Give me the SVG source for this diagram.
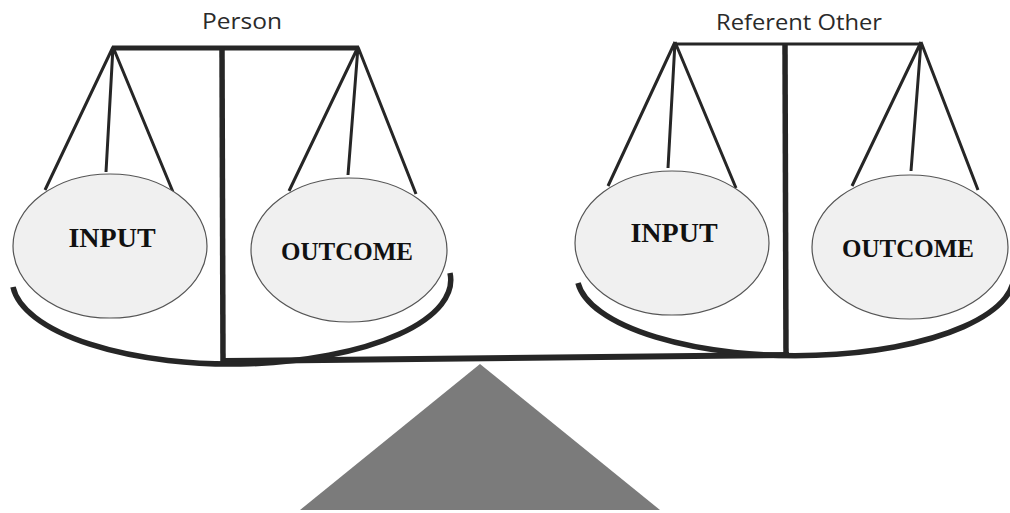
<svg xmlns="http://www.w3.org/2000/svg" width="1010" height="513" viewBox="0 0 1010 513">
  <style>
    .bg { fill: #ffffff; }
    .line { stroke: #262626; fill: none; stroke-linecap: butt; }
    .string { stroke: #262626; stroke-width: 3; fill: none; }
    .pan { stroke: #262626; stroke-width: 5.5; fill: none; }
    .dish { fill: #f0f0f0; stroke: #555555; stroke-width: 1.2; }
    .title { font-family: "Open Sans", "Liberation Sans", sans-serif; font-size: 22px; fill: #2a2a2a; text-anchor: middle; }
    .big { font-family: "Liberation Serif", "Times New Roman", serif; font-weight: bold; fill: #111111; text-anchor: middle; }
  </style>
  <rect class="bg" x="0" y="0" width="1010" height="513"/>

  <!-- fulcrum -->
  <g id="fulcrum">
    <polygon points="480,364 300,510 660,510" fill="#7b7b7b"/>
  </g>

  <!-- main beam connecting both scales -->
  <g id="connectors">
    <line class="line" x1="224" y1="361" x2="789" y2="355" stroke-width="6"/>
  </g>

  <!-- left scale: Person -->
  <g id="person-scale">
    <text class="title" x="242" y="29" textLength="80" lengthAdjust="spacingAndGlyphs">Person</text>
    <line class="line" x1="112" y1="48" x2="359" y2="48" stroke-width="5"/>
    <line class="line" x1="222" y1="48" x2="223" y2="362" stroke-width="5.5"/>
    <path class="string" d="M113 47 L45 190 M113 47 L106 172 M113 47 L173 192"/>
    <path class="string" d="M358 47 L289 191 M358 47 L348 175 M358 47 L416 194"/>
    <path class="pan" d="M13 287 A219 84 0 0 0 450 273"/>
  </g>

  <g id="person-input">
    <ellipse class="dish" cx="110" cy="246" rx="97" ry="72"/>
    <text class="big" x="112" y="247" font-size="28">INPUT</text>
  </g>

  <g id="person-outcome">
    <ellipse class="dish" cx="349" cy="250" rx="98" ry="72"/>
    <text class="big" x="347" y="260" font-size="25">OUTCOME</text>
  </g>

  <!-- right scale: Referent Other -->
  <g id="referent-scale">
    <text class="title" x="799" y="30" textLength="166" lengthAdjust="spacingAndGlyphs">Referent Other</text>
    <line class="line" x1="675" y1="44" x2="921" y2="44" stroke-width="3"/>
    <line class="line" x1="785" y1="45" x2="786" y2="357" stroke-width="5.5"/>
    <path class="string" d="M675 42 L608 186 M675 42 L668 168 M675 42 L736 188"/>
    <path class="string" d="M921 42 L852 186 M921 42 L911 171 M921 42 L978 190"/>
    <path class="pan" d="M578 283 A218 80 0 0 0 1013 268"/>
  </g>

  <g id="referent-input">
    <ellipse class="dish" cx="672" cy="243" rx="97" ry="72"/>
    <text class="big" x="674" y="242" font-size="28">INPUT</text>
  </g>

  <g id="referent-outcome">
    <ellipse class="dish" cx="910" cy="247" rx="98" ry="72"/>
    <text class="big" x="908" y="257" font-size="25">OUTCOME</text>
  </g>
</svg>
